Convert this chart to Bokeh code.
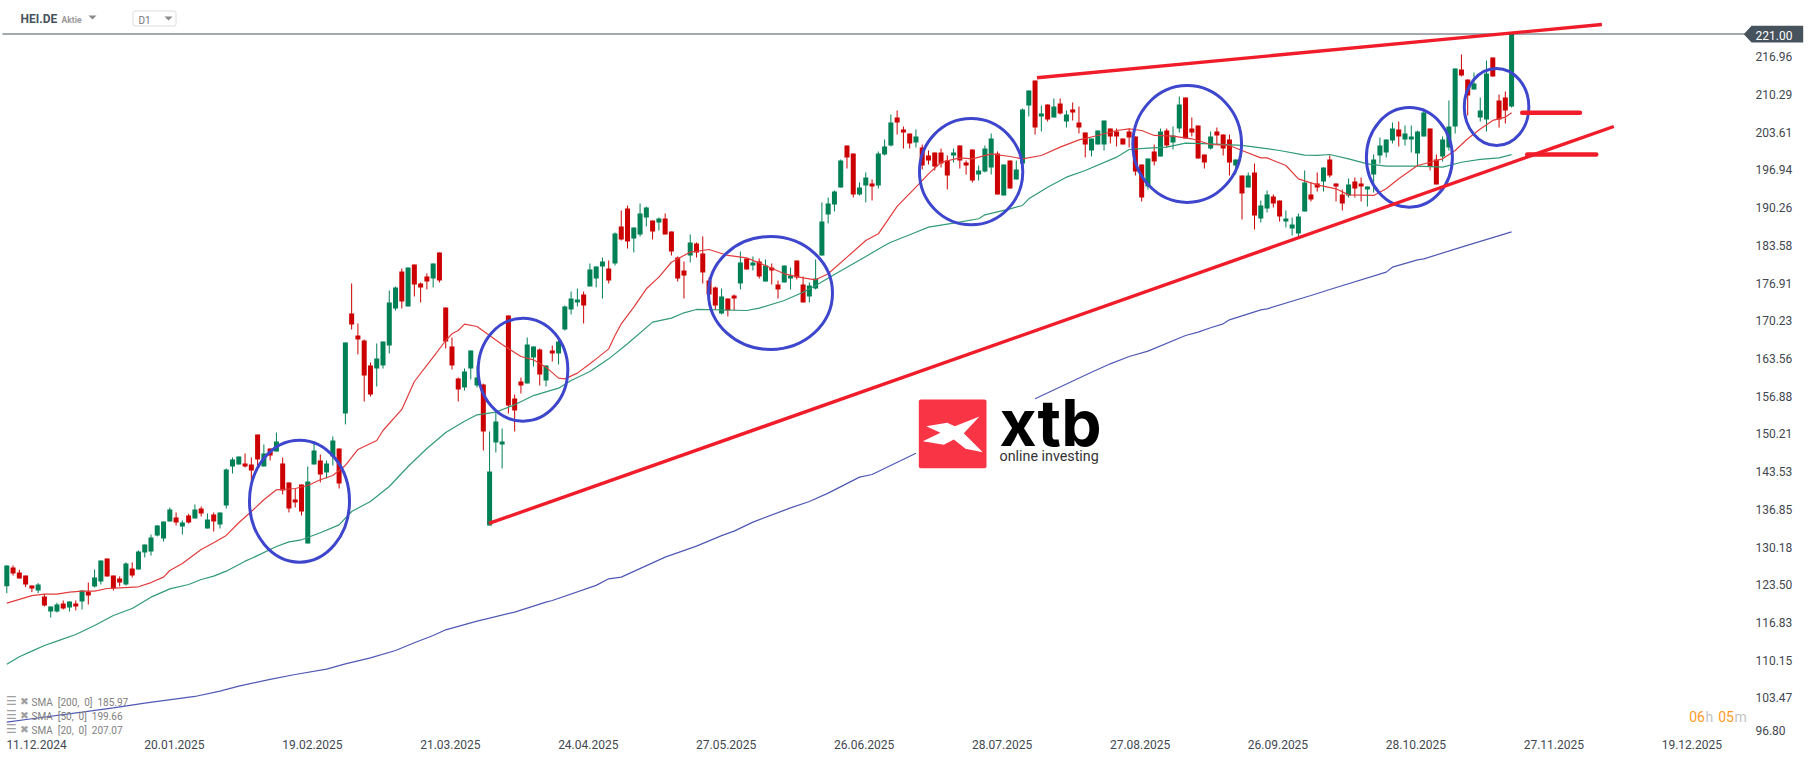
from bokeh.embed import file_html
from bokeh.resources import INLINE
from bokeh.models import (BoxAnnotation, ColumnDataSource, FixedTicker, Label,
                          NumeralTickFormatter, PolyAnnotation, Range1d)
from bokeh.plotting import figure

# daily candles
opens = [
    123.27, 126.57, 125.69, 125.15, 123.38, 122.5, 121.44, 118.78, 118.78, 120.2,
    119.49, 120.2, 120.55, 122.32, 123.21, 124.09, 128.16, 125.15, 124.62, 123.56,
    126.39, 126.22, 129.23, 129.4, 132.23, 131.7, 134.71, 135.42, 133.83, 135.77,
    135.24, 137.01, 133.47, 135.95, 134.18, 137.54, 144.45, 144.8, 144.98, 144.8,
    150.11, 144.45, 147.63, 147.1, 144.98, 141.62, 138.61, 141.26, 130.82, 144.8,
    145.51, 143.39, 146.22, 147.63, 153.83,
    171.53, 167.63, 166.75, 162.33, 161.79, 162.33, 165.86, 172.41, 178.96, 172.77,
    180.2, 176.84, 178.08, 177.72, 182.33, 172.59, 165.69, 160.02, 158.43, 161.79,
    158.78, 158.96, 133.99, 148.7, 148.34, 171.18, 156.48, 159.49, 159.14, 163.74,
    165.16, 159.67, 164.98, 164.45, 168.7, 172.24, 173.48, 174.89, 176.31, 177.72,
    179.85, 179.49, 180.38, 186.93, 190.11, 184.8, 185.51, 188.52, 187.99, 187.64,
    188.34, 186.04, 181.44, 179.14, 181.79, 183.92, 182.15, 177.37, 176.13, 171.53,
    174.18, 174.71, 176.84, 181.26, 180.02, 180.73, 177.19, 179.67, 176.66, 177.02,
    177.72, 180.91, 176.66, 174.54, 175.95, 181.79, 189.05, 190.82, 193.83, 201.26,
    199.85, 192.59, 194.18, 194.54, 194.18, 199.67, 201.26, 206.22, 204.1, 203.39,
    201.8, 200.91, 199.49, 200.03, 200.03, 198.61, 199.49, 201.26, 198.26, 200.56,
    196.13, 196.66, 197.37, 199.85, 192.41, 198.61, 195.25, 198.08, 208.34, 212.77,
    206.4, 208.52, 206.22, 208.7, 205.51, 207.64, 205.34, 203.57, 200.38, 201.44,
    201.44, 204.27, 203.74, 202.5, 203.74, 202.86, 197.9, 194.01, 200.2, 199.32,
    203.92, 201.8, 204.27, 209.76, 204.27, 204.8, 199.67, 200.73, 203.74, 203.21,
    202.33, 197.72, 195.95, 193.83, 196.49, 188.34, 190.11, 192.24, 191.53, 187.81,
    186.57, 185.69, 189.58, 192.59, 194.54, 194.89, 198.79, 194.54, 192.59, 192.41,
    194.89, 194.54, 193.48, 196.13, 199.49, 200.03, 202.15, 204.1, 202.33, 202.33,
    199.85, 202.86, 204.27, 198.79, 199.32, 200.91, 204.63, 214.72, 212.95, 211.18,
    206.22, 205.87, 216.84, 209.23, 209.76, 208.17,
]
highs = [
    126.93, 126.93, 126.16, 125.15, 123.38, 123.8, 121.91, 119.67, 120.32, 120.73,
    120.55, 120.73, 122.5, 123.92, 126.22, 127.81, 128.16, 125.15, 124.98, 127.46,
    127.46, 129.58, 130.64, 132.41, 134.1, 134.71, 137.19, 136.31, 134.89, 136.07,
    137.72, 137.37, 136.13, 136.31, 136.31, 144.09, 146.04, 146.22, 146.75, 146.04,
    150.11, 148.34, 147.63, 150.47, 146.04, 141.62, 140.55, 141.26, 144.45, 148.87,
    146.57, 145.51, 149.76, 147.63, 166.4,
    176.84, 169.76, 166.93, 162.86, 166.22, 166.57, 175.6, 176.31, 179.49, 179.67,
    180.2, 177.02, 178.61, 180.38, 182.33, 172.59, 167.28, 160.2, 161.79, 164.98,
    162.32, 159.1, 150.64, 154.01, 151.17, 171.18, 157.19, 160.2, 167.28, 165.69,
    165.33, 162.32, 165.86, 166.75, 172.94, 175.42, 175.95, 175.42, 180.38, 179.85,
    181.44, 180.91, 185.87, 189.76, 190.64, 186.75, 191.0, 190.47, 187.99, 188.52,
    189.23, 186.04, 181.62, 180.73, 185.51, 184.1, 185.16, 177.9, 176.31, 175.95,
    174.18, 174.89, 182.5, 181.26, 181.62, 181.26, 181.09, 180.38, 177.37, 180.02,
    179.67, 180.91, 178.08, 177.02, 181.09, 191.18, 192.06, 193.3, 198.79, 201.26,
    199.85, 194.72, 196.49, 195.25, 200.2, 202.33, 206.75, 207.46, 204.63, 203.39,
    204.1, 201.44, 200.38, 200.03, 200.73, 199.49, 200.73, 201.26, 198.61, 200.56,
    197.72, 201.26, 203.39, 200.2, 197.9, 198.61, 198.61, 207.81, 211.0, 212.77,
    208.34, 208.52, 209.58, 209.58, 207.46, 208.88, 208.17, 203.57, 202.5, 203.92,
    205.69, 204.27, 204.27, 202.5, 204.27, 202.86, 197.9, 198.96, 201.44, 204.27,
    204.27, 204.63, 209.94, 209.76, 206.22, 204.8, 199.67, 203.74, 204.45, 203.21,
    203.21, 198.79, 195.95, 196.49, 198.08, 191.53, 193.3, 192.59, 191.53, 189.76,
    188.52, 189.23, 196.84, 194.72, 196.49, 197.37, 199.49, 194.54, 193.48, 195.42,
    195.6, 195.6, 194.01, 199.67, 202.68, 202.33, 205.34, 205.51, 204.8, 204.8,
    203.92, 207.81, 204.27, 199.67, 202.86, 209.23, 214.89, 217.37, 212.95, 214.19,
    209.76, 216.31, 216.84, 210.29, 210.82, 221.0,
]
lows = [
    122.03, 125.15, 124.62, 123.09, 122.2, 122.03, 119.67, 117.72, 118.61, 119.14,
    118.78, 118.96, 119.14, 120.02, 123.03, 123.56, 124.98, 122.5, 123.21, 123.38,
    124.8, 126.22, 128.34, 128.69, 132.06, 131.17, 134.71, 134.0, 132.41, 134.36,
    135.24, 135.6, 133.47, 132.94, 133.47, 137.01, 143.21, 144.8, 144.27, 141.79,
    144.09, 144.45, 145.51, 147.1, 139.49, 136.31, 137.19, 135.77, 130.82, 144.8,
    141.62, 142.32, 144.62, 140.55, 151.9,
    168.7, 164.27, 155.95, 156.84, 158.6, 161.79, 164.45, 172.06, 172.41, 172.77,
    174.54, 173.48, 175.78, 176.13, 177.02, 165.33, 161.62, 155.95, 157.9, 159.85,
    158.43, 147.28, 133.99, 146.93, 144.09, 153.83, 150.64, 157.37, 159.14, 162.15,
    158.78, 158.61, 163.03, 162.5, 168.52, 171.35, 172.77, 169.76, 176.31, 176.13,
    174.18, 176.84, 180.02, 184.45, 183.03, 182.33, 185.16, 186.93, 184.63, 186.22,
    185.51, 181.79, 177.19, 174.18, 180.56, 181.44, 176.84, 174.89, 172.24, 171.35,
    171.0, 172.06, 175.78, 179.32, 179.14, 177.72, 177.19, 176.66, 174.18, 177.02,
    175.78, 177.55, 173.48, 173.48, 175.78, 181.79, 187.46, 189.58, 193.83, 197.19,
    192.06, 192.41, 191.18, 191.53, 193.65, 199.5, 201.09, 203.21, 200.73, 200.73,
    200.91, 197.02, 197.9, 196.84, 197.37, 193.48, 198.26, 197.19, 196.13, 194.72,
    195.07, 196.49, 196.13, 192.59, 192.41, 193.65, 195.25, 198.08, 206.4, 203.21,
    203.74, 205.51, 206.22, 206.75, 204.45, 205.69, 203.39, 199.14, 199.32, 201.44,
    200.38, 201.62, 201.09, 201.44, 200.91, 195.95, 191.35, 193.48, 197.72, 199.32,
    200.91, 200.56, 203.57, 202.5, 202.86, 198.96, 197.19, 200.56, 201.44, 199.49,
    195.95, 196.13, 188.17, 193.83, 186.4, 187.64, 189.41, 190.29, 187.81, 186.75,
    185.33, 185.16, 189.58, 191.35, 193.12, 193.12, 195.6, 191.35, 189.76, 192.06,
    192.06, 191.35, 190.47, 192.95, 198.08, 199.14, 201.62, 201.09, 201.26, 200.03,
    197.55, 202.86, 196.84, 194.36, 198.43, 200.38, 203.39, 213.48, 206.57, 211.18,
    205.51, 203.74, 213.48, 204.45, 205.16, 207.99,
]
closes = [
    126.93, 125.51, 124.62, 123.56, 122.85, 123.56, 119.84, 119.67, 120.02, 119.31,
    120.55, 119.67, 122.5, 121.61, 124.8, 127.81, 124.98, 122.85, 123.92, 127.28,
    125.15, 129.4, 130.64, 131.88, 134.0, 134.71, 136.84, 134.54, 134.54, 134.54,
    136.84, 136.13, 135.07, 134.71, 136.31, 143.92, 145.69, 146.22, 144.45, 143.74,
    145.69, 146.75, 146.39, 148.87, 140.2, 137.01, 138.08, 136.48, 141.79, 147.28,
    143.03, 144.98, 149.05, 141.44, 166.4,
    169.58, 166.93, 160.55, 157.19, 163.56, 166.57, 173.48, 176.13, 173.65, 179.67,
    176.66, 176.13, 177.19, 180.38, 177.37, 166.57, 162.33, 158.08, 161.26, 164.98,
    160.2, 150.64, 143.56, 152.41, 148.87, 155.24, 154.36, 158.78, 166.04, 165.69,
    160.73, 162.32, 164.45, 166.57, 172.77, 174.18, 174.01, 172.94, 179.32, 179.85,
    180.73, 177.37, 185.69, 184.63, 184.27, 186.75, 189.23, 190.29, 186.04, 188.34,
    185.51, 182.5, 177.72, 178.25, 184.1, 182.33, 178.79, 174.89, 172.94, 174.54,
    172.06, 174.18, 180.56, 179.32, 180.56, 178.08, 180.02, 179.14, 175.78, 180.02,
    178.25, 177.9, 173.48, 176.48, 177.72, 187.81, 191.0, 193.12, 198.61, 199.14,
    192.59, 193.83, 195.6, 194.01, 199.85, 201.09, 205.34, 205.34, 203.57, 201.62,
    202.86, 197.72, 198.61, 197.55, 198.08, 195.95, 200.03, 198.61, 197.72, 195.07,
    196.84, 200.73, 202.5, 192.59, 197.9, 193.65, 197.02, 207.64, 211.0, 204.45,
    206.93, 205.87, 208.17, 206.93, 206.75, 207.11, 204.45, 201.44, 202.5, 203.92,
    205.69, 202.86, 202.86, 201.44, 202.68, 196.66, 192.06, 198.96, 198.43, 203.74,
    201.26, 203.03, 208.52, 202.5, 203.57, 198.96, 198.26, 202.86, 203.03, 200.73,
    198.26, 198.79, 192.77, 195.95, 188.88, 190.64, 192.59, 191.0, 188.7, 188.34,
    187.28, 188.7, 194.72, 191.71, 193.83, 197.37, 195.95, 194.01, 191.0, 194.36,
    193.65, 194.01, 194.01, 198.79, 201.26, 202.33, 204.27, 202.86, 203.39, 202.86,
    203.74, 207.11, 197.55, 194.36, 202.33, 204.63, 214.89, 213.65, 210.11, 212.24,
    207.46, 214.01, 213.48, 205.87, 207.46, 221.0,
]

# moving averages, bar number and value
sma20_bars = [0, 4, 6, 8, 10, 12, 14, 16, 18, 21, 23, 25, 26, 28, 31, 33, 35, 37, 39, 41, 43, 46, 48, 50,
              52, 54, 56, 59, 60, 63, 65, 68, 70, 71, 72, 73, 75, 77, 79, 82, 84, 86, 88, 89, 91, 93, 94,
              96, 97, 98, 100, 102, 104, 106, 109, 112, 115, 118, 121, 124, 127, 129, 131, 134, 137, 139,
              142, 145, 147, 149, 152, 154, 157, 160, 162, 165, 168, 171, 174, 177, 179, 181, 183, 186,
              189, 192, 195, 197, 200, 201, 204, 206, 209, 212, 214, 218, 220, 222, 225, 227, 229, 231,
              233, 235, 237, 239, 240]
sma20 = [120.26, 121.6, 121.85, 121.85, 122.2, 122.4, 122.4, 122.85, 122.97, 123.15, 123.9, 124.86, 126.04,
         127.28, 129.76, 130.94, 132.24, 134.48, 136.48, 138.55, 140.32, 140.55, 141.08, 142.09, 142.85,
         144.63, 147.46, 149.05, 150.82, 154.54, 159.49, 163.8, 166.75, 167.93, 168.52, 169.64, 169.23,
         167.64, 166.04, 163.92, 163.33, 162.03, 160.08, 159.96, 160.97, 162.62, 163.5, 165.27, 167.64,
         169.7, 172.65, 175.9, 177.96, 180.6, 182.4, 182.86, 181.8, 181.38, 180.02, 178.55, 177.84, 177.49,
         178.55, 181.5, 184.45, 185.63, 190.5, 193.89, 196.25, 198.3, 199.08, 198.9, 199.79, 199.32, 198.9,
         199.5, 200.97, 202.27, 203.04, 203.92, 204.2, 203.92, 203.04, 202.92, 202.45, 201.44, 201.27,
         200.38, 199.08, 199.08, 197.72, 195.36, 194.3, 193.6, 192.53, 192.42, 193.6, 195.37, 197.72, 198.3,
         198.9, 200.38, 202.45, 204.2, 205.7, 206.3, 207.07]
sma50_bars = [0, 2, 4, 6, 8, 11, 14, 17, 20, 23, 26, 29, 31, 33, 35, 38, 39, 43, 45, 47, 50, 53, 55, 58, 61,
              64, 67, 70, 73, 75, 78, 81, 84, 88, 90, 93, 96, 99, 103, 106, 108, 110, 118, 120, 124, 127,
              129, 132, 137, 140, 141, 145, 147, 151, 155, 156, 160, 162, 163, 166, 169, 172, 177, 179,
              182, 185, 188, 192, 197, 200, 203, 207, 209, 211, 214, 217, 220, 225, 229, 232, 235, 238, 240]
sma50 = [109.46, 110.76, 111.76, 112.77, 113.53, 114.71, 116.3, 118.08, 119.31, 121.32, 122.79, 123.56,
         124.45, 125.04, 125.92, 127.69, 128.16, 130.29, 131.11, 131.47, 132.71, 134.12, 136.48, 138.25,
         140.91, 144.45, 147.63, 150.47, 152.47, 153.59, 154.07, 155.36, 157.0, 158.31, 159.67, 161.26,
         163.5, 166.16, 170.0, 170.7, 171.65, 172.24, 172.06, 172.47, 173.83, 175.3, 176.5, 178.43, 181.62,
         183.56, 184.15, 185.92, 186.81, 187.52, 188.3, 188.99, 190.06, 190.65, 191.83, 193.89, 195.66,
         196.84, 199.2, 200.56, 200.79, 200.97, 201.68, 201.56, 201.27, 200.85, 200.38, 199.56, 199.5,
         199.67, 198.9, 198.0, 197.6, 197.6, 197.43, 198.3, 198.8, 199.08, 199.66]
# the 200 line disappears behind the logo, hence the nan
sma200_bars = [0, 4, 12, 17, 22, 30, 34, 37, 42, 46, 51, 54, 58, 62, 65, 68, 70, 75, 77, 81, 86, 87, 94, 96,
               98, 105, 110, 114, 116, 119, 125, 128, 131, 136, 138, 145, 155, 164, 173, 176, 179, 182, 188,
               190, 192, 194, 195, 200, 201, 208, 211, 220, 221, 225, 226, 232, 240]
sma200 = [99.2, 99.79, 100.97, 101.73, 102.56, 103.74, 104.68, 105.57, 106.75, 107.63, 108.58, 109.52,
          110.58, 111.88, 113.24, 114.54, 115.54, 117.07, 117.6, 118.67, 120.43, 120.73, 123.4, 124.57,
          124.86, 128.4, 130.35, 132.2, 133.0, 134.6, 137.13, 138.25, 139.73, 142.56, 143.03, 146.8,
          float("nan"), 156.43, 161.14, 162.62, 163.92, 164.86, 167.63, 168.23, 169.0, 169.7, 170.41,
          172.18, 172.35, 174.71, 175.78, 178.85, 179.73, 181.03, 181.2, 183.27, 185.97]

price_ticks = [216.96, 210.29, 203.61, 196.94, 190.26, 183.58, 176.91, 170.23, 163.56, 156.88, 150.21,
               143.53, 136.85, 130.18, 123.50, 116.83, 110.15, 103.47]
bottom_tick = 97.7
bottom_label = "96.80"
date_bars = [0, 22, 44, 66, 88, 110, 132, 154, 176, 198, 220, 242, 264]
date_labels = ["11.12.2024", "20.01.2025", "19.02.2025", "21.03.2025", "24.04.2025", "27.05.2025",
               "26.06.2025", "28.07.2025", "27.08.2025", "26.09.2025", "28.10.2025", "27.11.2025",
               "19.12.2025"]
last_price = 221.00

# hand drawn marks on the chart
support_x = [76.9, 256.3]
support_y = [134.36, 204.63]
resist_x = [164.3, 254.4]
resist_y = [213.25, 222.68]
stub_x0 = [241.7, 242.5]
stub_x1 = [250.9, 253.5]
stub_y = [207.05, 199.67]
circle_x = [46.68, 82.33, 121.8, 153.8, 188.26, 223.7, 237.6]
circle_y = [138.31, 161.58, 175.16, 196.63, 201.53, 199.16, 208.08]
circle_w = [15.95, 14.29, 19.78, 16.48, 17.34, 13.72, 10.3]
circle_h = [21.6, 18.23, 20.0, 18.82, 20.71, 17.65, 13.63]

assert len(opens) == len(highs) == len(lows) == len(closes) == 241
assert len(sma20_bars) == len(sma20) and len(sma50_bars) == len(sma50) and len(sma200_bars) == len(sma200)

GREEN = "#008055"
RED = "#cc0000"
SLATE = "#47535c"

# the frame runs to the right edge so that the price tag is not clipped,
# the price axis is pinned inside it with fixed_location
p = figure(width=1815, height=761, output_backend="svg", toolbar_location=None,
           x_range=Range1d(-1.005, 288.47), y_range=Range1d(96.83, 226.93),
           y_axis_location="right",
           min_border_left=0, min_border_top=0, min_border_right=0, min_border_bottom=26)
p.grid.visible = False
p.outline_line_color = None

bars = list(range(len(opens)))
src = ColumnDataSource(dict(
    x=bars, o=opens, h=highs, l=lows, c=closes,
    color=[GREEN if c >= o else RED for o, c in zip(opens, closes)],
))
p.segment("x", "h", "x", "l", source=src, line_color="color", line_width=1)
p.vbar("x", 0.8, "o", "c", source=src, fill_color="color", line_color=None)

p.line(sma200_bars, sma200, line_color="#4f59b4", line_width=1.2)
p.line(sma50_bars, sma50, line_color="#329a77", line_width=1.2)
p.line(sma20_bars, sma20, line_color="#e23c3c", line_width=1.2)

p.segment([-0.7], [last_price], [277.2], [last_price], line_color=SLATE, line_width=1)

p.ellipse(circle_x, circle_y, width=circle_w, height=circle_h, fill_color=None,
          line_color="#3d46cc", line_width=3)
p.line(support_x, support_y, line_color="#f01c2a", line_width=3.4)
p.line(resist_x, resist_y, line_color="#f01c2a", line_width=3.4)
p.segment(stub_x0, stub_y, stub_x1, stub_y, line_color="#f01c2a", line_width=4.5, line_cap="round")

# axes
yax = p.yaxis[0]
yax.fixed_location = 278.1
yax.ticker = FixedTicker(ticks=price_ticks + [bottom_tick])
yax.formatter = NumeralTickFormatter(format="0.00")
yax.major_label_overrides = {bottom_tick: bottom_label}
yax.major_label_standoff = 5

xax = p.xaxis[0]
label_shift = 4.74  # the dates start at their bar, they are not centred on it
date_ticks = [b + label_shift for b in date_bars]
xax.ticker = FixedTicker(ticks=date_ticks)
xax.major_label_overrides = dict(zip(date_ticks, date_labels))
xax.major_label_standoff = 4

for ax in (xax, yax):
    ax.axis_line_color = None
    ax.major_tick_line_color = None
    ax.minor_tick_line_color = None
    ax.major_tick_in = 0
    ax.major_tick_out = 0
    ax.major_label_text_font = "Roboto"
    ax.major_label_text_font_size = "12px"
    ax.major_label_text_color = "#3f4850"


def poly(xs, ys, color):
    p.add_layout(PolyAnnotation(xs=xs, ys=ys, xs_units="canvas", ys_units="canvas",
                                fill_color=color, fill_alpha=1, line_color=None))


def text(s, x, y, size, color, font="Roboto", style="normal", baseline="middle"):
    p.add_layout(Label(x=x, y=735 - y, x_units="screen", y_units="screen", text=s,
                       text_font=font, text_font_size=size, text_font_style=style,
                       text_color=color, text_baseline=baseline, text_align="left"))


# price tag
poly([1743.3, 1751, 1802.7, 1802.7, 1751], [33.7, 25.3, 25.3, 42, 42], SLATE)
text("221.00", 1755, 34.7, "12px", "#ffffff")

# header
text("HEI.DE", 20, 18.5, "12px", SLATE, style="bold")
text("Aktie", 61, 19.5, "8.5px", "#999999", style="bold")
poly([88, 96, 92], [15, 15, 19], "#8a8a8a")
p.add_layout(BoxAnnotation(left=132.5, right=175.5, top=10.5, bottom=25.5,
                           left_units="canvas", right_units="canvas", top_units="canvas", bottom_units="canvas",
                           fill_color="#ffffff", fill_alpha=1, line_color="#dddddd", line_alpha=1, line_width=1,
                           border_radius=2))
text("D1", 138, 19.5, "10px", "#777777")
poly([164, 172, 168], [16, 16, 20], "#8a8a8a")

# indicator legend
legend_rows = ["SMA\u00a0\u00a0[200,\u00a0\u00a00]\u00a0\u00a0185.97",
               "SMA\u00a0\u00a0[50,\u00a0\u00a00]\u00a0\u00a0199.66",
               "SMA\u00a0\u00a0[20,\u00a0\u00a00]\u00a0\u00a0207.07"]
for row, y in zip(legend_rows, [701.7, 715.7, 729.7]):
    text("\u2630", 5.5, y - 1, "12px", "#a0a0a0", font="DejaVu Sans")
    text("\u2716", 19.5, y - 1.5, "10.5px", "#a0a0a0", font="DejaVu Sans")
    text(row, 31, y, "10px", "#808080")

# countdown
text("06", 1688.7, 716, "14px", "#ff9a1f")
text("h", 1705, 716, "14px", "#c4c4c4")
text("05", 1717.7, 716, "14px", "#ff9a1f")
text("m", 1734, 716, "14px", "#c4c4c4")

# logo
p.add_layout(BoxAnnotation(left=918.3, right=986, top=399, bottom=467.7,
                           left_units="canvas", right_units="canvas", top_units="canvas", bottom_units="canvas",
                           fill_color="#f93444", fill_alpha=1, line_color=None, border_radius=2))
poly([925.7, 946.7, 954.3, 979, 963.3, 982.3, 965, 953.3, 943.3, 922.3, 940],
     [425.7, 422.3, 425.7, 416, 432.7, 451.7, 448.3, 439, 444.3, 440.7, 432.3], "#ffffff")
# Label's alphabetic baseline sits lower than the y given, so y is lifted
text("xtb", 999, 422, "64px", "#000000", font="Inter", style="bold", baseline="alphabetic")
text("online investing", 999, 455.7, "14.3px", "#333333", baseline="alphabetic")

open("out.html", "w").write(file_html(p, INLINE))
